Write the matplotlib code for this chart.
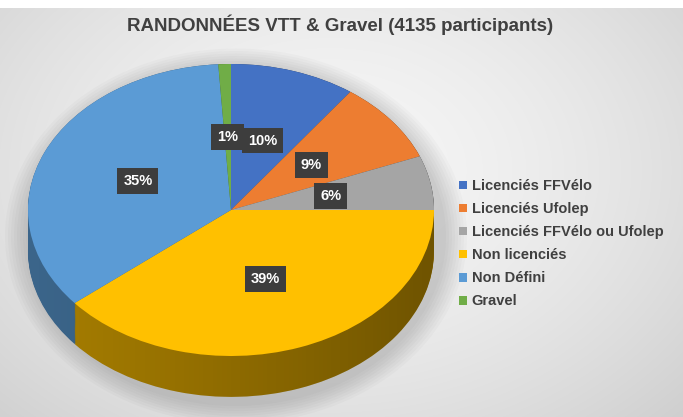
import numpy as np
import matplotlib.pyplot as plt
from matplotlib.patches import Ellipse, Polygon
from matplotlib.colors import to_rgb

labels = ['Licenciés FFVélo', 'Licenciés Ufolep', 'Licenciés FFVélo ou Ufolep',
          'Non licenciés', 'Non Défini', 'Gravel']
values = [10, 9, 6, 39, 35, 1]
colors = ['#4472C4', '#ED7D31', '#A5A5A5', '#FFC000', '#5B9BD5', '#70AD47']
title = 'RANDONNÉES VTT & Gravel (4135 participants)'

plt.rcParams['font.family'] = ['Liberation Sans', 'DejaVu Sans']

W, H = 683, 417
fig = plt.figure(figsize=(W / 100, H / 100), dpi=100)

# background gradient
bg = fig.add_axes([0, 0, 1, 1])
yy, xx = np.mgrid[0:H, 0:W]
d = np.sqrt(((xx - 330) / 520) ** 2 + ((yy - 170) / 380) ** 2)
d = np.clip(d, 0, 1)
g = 0.965 - 0.17 * d ** 1.6
img = np.dstack([g, g, g])
img[:8, :, :] = 1.0
bg.imshow(img, extent=(0, W, H, 0), aspect='auto')
for i in range(8):
    bg.add_patch(Ellipse((236, 236), 420 + i * 6, 340 + i * 5, fc='black',
                         ec='none', alpha=0.018))
bg.set_xlim(0, W)
bg.set_ylim(H, 0)
bg.axis('off')

# pie axes
depth = 0.28
rx, ry = 203, 146
top_px = 64
ax_h = ry * (2 + depth)
ax = fig.add_axes([28 / W, 1 - (top_px + ax_h) / H, 2 * rx / W, ax_h / H])
ax.patch.set_alpha(0)

side_colors = [tuple(c * 0.65 for c in to_rgb(col)) for col in colors]
for k in np.linspace(depth, 0, 40):
    ax.pie(values, colors=side_colors, startangle=90, counterclock=False,
           center=(0, -k), radius=1, wedgeprops=dict(linewidth=0))

# darken the side toward the right
t = np.linspace(0, np.pi, 100)
outline = np.vstack([np.c_[np.cos(t), np.sin(t)],
                     np.c_[np.cos(t + np.pi), np.sin(t + np.pi) - depth]])
clip = Polygon(outline, closed=True, transform=ax.transData, fc='none', ec='none')
ax.add_patch(clip)
grad = np.zeros((2, 200, 4))
grad[..., 3] = np.linspace(0, 0.4, 200) ** 1.2
im = ax.imshow(grad, extent=(-1, 1, -1 - depth, 1), aspect='auto', zorder=5)
im.set_clip_path(clip)

wedges, texts, autotexts = ax.pie(
    values, colors=colors, startangle=90, counterclock=False,
    radius=1, wedgeprops=dict(linewidth=0),
    autopct=lambda p: f'{p:.0f}%', pctdistance=0.5,
    textprops=dict(color='white', fontsize=10.5, fontweight='bold'))
for w in wedges:
    w.set_zorder(10)
for at in autotexts:
    at.set_zorder(12)
    at.set_bbox(dict(boxstyle='square,pad=0.4', fc='#3d3d3d', ec='none'))

ax.set_aspect('auto')
ax.set_xlim(-1, 1)
ax.set_ylim(-1 - depth, 1)
ax.axis('off')

fig.text(340 / W, 1 - 25 / H, title, ha='center', va='center',
         fontsize=13.5, fontweight='bold', color='#404040')

fig.legend(wedges, labels, loc='upper left', bbox_to_anchor=(446 / W, 1 - 166 / H),
           frameon=False, handlelength=0.55, handleheight=0.55,
           handletextpad=0.3, labelspacing=0.62, labelcolor='#404040',
           prop=dict(weight='bold', size=10.5))

fig.savefig('out.png', dpi=100)
